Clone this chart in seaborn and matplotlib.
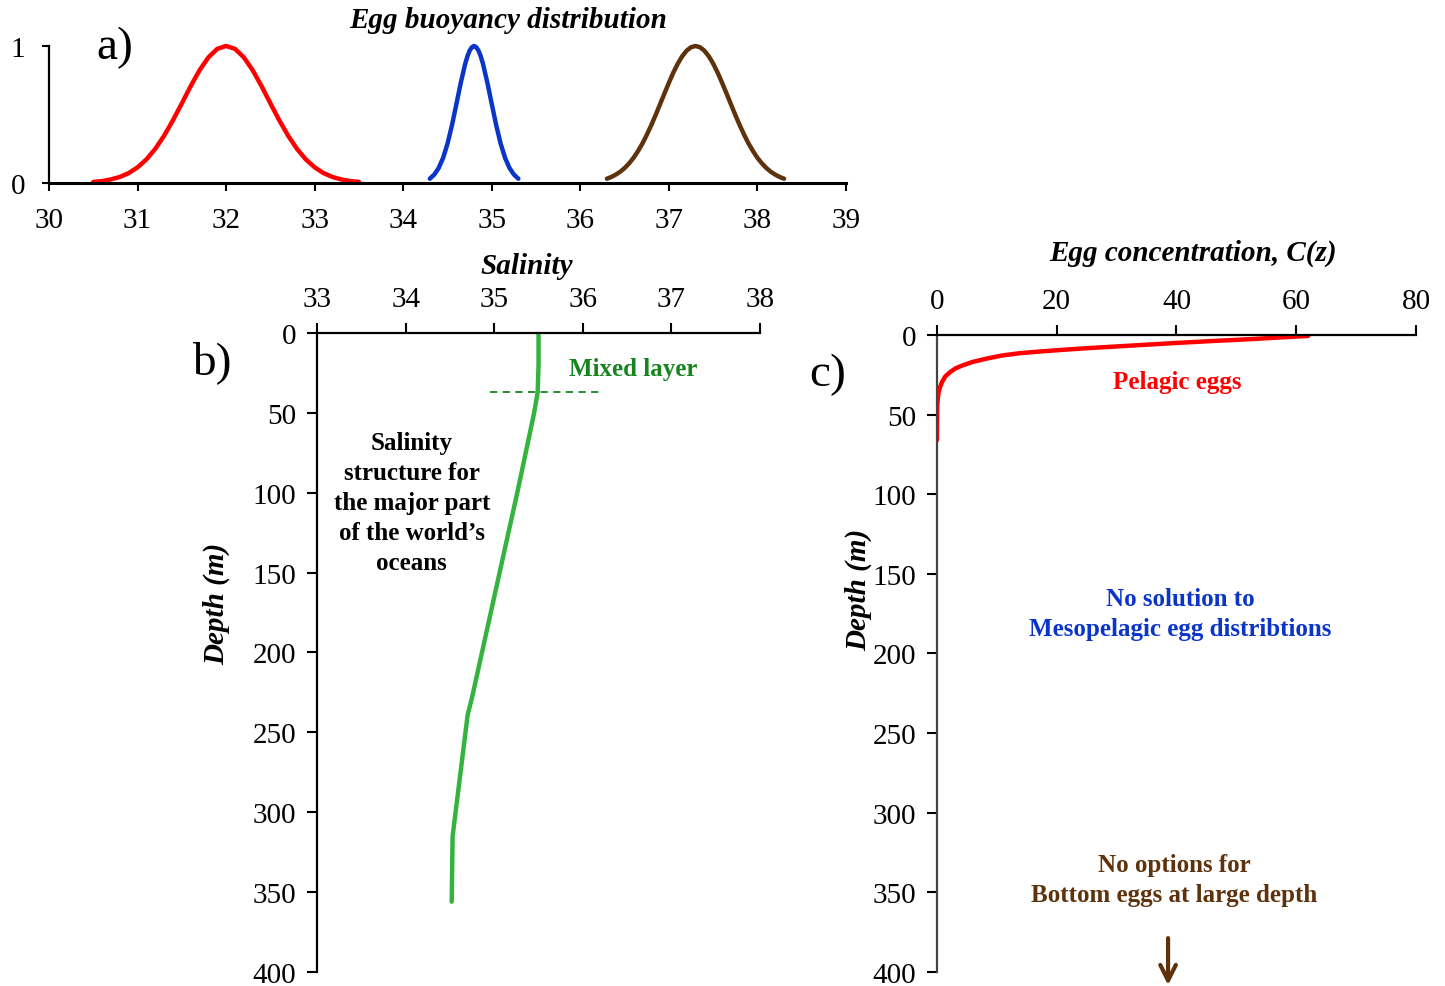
import numpy as np
import pandas as pd
import matplotlib
matplotlib.use("Agg")
import matplotlib.pyplot as plt
import seaborn as sns

# ---- panel a: egg buoyancy curves ----
red_sal = [30.5, 30.6, 30.7, 30.8, 30.9, 31.0, 31.1, 31.2, 31.3, 31.4, 31.5, 31.6, 31.7, 31.8, 31.9,
           32.0, 32.1, 32.2, 32.3, 32.4, 32.5, 32.6, 32.7, 32.8, 32.9, 33.0, 33.1, 33.2, 33.3, 33.4, 33.5]
red_val = [0.008, 0.014, 0.026, 0.044, 0.072, 0.114, 0.172, 0.249, 0.345, 0.458, 0.581, 0.707, 0.823, 0.917, 0.979,
           1.0, 0.979, 0.917, 0.823, 0.707, 0.581, 0.458, 0.345, 0.249, 0.172, 0.114, 0.072, 0.044, 0.026, 0.014, 0.008]
blue_sal = [34.3, 34.35, 34.4, 34.45, 34.5, 34.55, 34.6, 34.65, 34.7, 34.725, 34.75, 34.775, 34.8,
            34.825, 34.85, 34.875, 34.9, 34.95, 35.0, 35.05, 35.1, 35.15, 35.2, 35.25, 35.3]
blue_val = [0.031, 0.061, 0.109, 0.183, 0.287, 0.421, 0.575, 0.732, 0.871, 0.925, 0.966, 0.991, 1.0,
            0.991, 0.966, 0.925, 0.871, 0.732, 0.575, 0.421, 0.287, 0.183, 0.109, 0.061, 0.031]
brown_sal = [36.3, 36.35, 36.4, 36.45, 36.5, 36.55, 36.6, 36.65, 36.7, 36.75, 36.8, 36.85, 36.9, 36.95,
             37.0, 37.05, 37.1, 37.15, 37.2, 37.25, 37.3, 37.35, 37.4, 37.45, 37.5, 37.55, 37.6, 37.65,
             37.7, 37.75, 37.8, 37.85, 37.9, 37.95, 38.0, 38.05, 38.1, 38.15, 38.2, 38.25, 38.3]
brown_val = [0.031, 0.044, 0.061, 0.082, 0.109, 0.143, 0.183, 0.232, 0.287, 0.351, 0.421, 0.496, 0.575, 0.654,
             0.732, 0.806, 0.871, 0.925, 0.966, 0.991, 1.0, 0.991, 0.966, 0.925, 0.871, 0.806, 0.732, 0.654,
             0.575, 0.496, 0.421, 0.351, 0.287, 0.232, 0.183, 0.143, 0.109, 0.082, 0.061, 0.044, 0.031]

# ---- panel b: salinity profile ----
prof_depth = [0, 20, 37, 50, 100, 135, 228, 239, 315, 356]
prof_sal = [35.5, 35.5, 35.49, 35.45, 35.26, 35.12, 34.75, 34.70, 34.53, 34.52]

# ---- panel c: pelagic egg concentration ----
conc_depth = [0.6, 1.5, 2.5, 3.7, 5, 6, 7.1, 8.3, 9.6, 10.5, 11.5, 13, 15, 17, 19.2, 21, 23.3,
              26, 29.6, 33, 36, 40, 44, 55, 66]
conc_val = [62, 57.5, 53, 46.5, 40, 35.5, 30.5, 25, 20, 16.8, 13.7, 10.7, 8.1, 5.9, 4.2, 3.1, 2.2,
            1.4, 0.84, 0.5, 0.28, 0.14, 0.06, 0.02, 0.0]

depth_ticks = [0, 50, 100, 150, 200, 250, 300, 350, 400]

RED = "#ff0000"
BLUE = "#0a35c8"
BROWN = "#5e320c"
GREEN = "#34b33f"
DKGREEN = "#17851d"

sns.set_style("ticks")
plt.rcParams["font.family"] = ["Liberation Serif", "DejaVu Serif"]
plt.rcParams["font.size"] = 21
plt.rcParams["axes.linewidth"] = 1.6
plt.rcParams["text.color"] = "black"
plt.rcParams["axes.labelcolor"] = "black"
plt.rcParams["axes.edgecolor"] = "black"
plt.rcParams["xtick.color"] = "black"
plt.rcParams["ytick.color"] = "black"

fig = plt.figure(figsize=(14.45, 9.87), dpi=100)

# ================= a) =================
ax_a = fig.add_axes([0.0339, 0.8136, 0.5516, 0.1388])
for s, v, c in [(red_sal, red_val, RED), (blue_sal, blue_val, BLUE), (brown_sal, brown_val, BROWN)]:
    d = pd.DataFrame({"sal": s, "val": v})
    sns.lineplot(data=d, x="sal", y="val", color=c, lw=3.2, ax=ax_a, sort=False, estimator=None,
                 solid_capstyle="round")
ax_a.set_xlim(30, 39)
ax_a.set_ylim(0, 1)
ax_a.set_xticks(range(30, 40))
ax_a.set_yticks([0, 1])
ax_a.set_xlabel("")
ax_a.set_ylabel("")
sns.despine(ax=ax_a)
ax_a.spines["bottom"].set_linewidth(2.2)
ax_a.tick_params(axis="x", length=6, width=1.5, pad=11, labelsize=21)
ax_a.tick_params(axis="y", length=5, width=1.5, pad=12, labelsize=21)
for line in ax_a.lines:
    line.set_clip_on(False)
fig.text(508 / 1445, 1 - 21 / 987, "Egg buoyancy distribution", ha="center", va="center",
         fontsize=21, fontweight="bold", fontstyle="italic")
fig.text(115 / 1445, 1 - 48 / 987, "a)", ha="center", va="center", fontsize=34)

# ================= b) =================
ax_b = fig.add_axes([0.2194, 0.0142, 0.3066, 0.6474])
dfb = pd.DataFrame({"sal": prof_sal, "depth": prof_depth})
sns.lineplot(data=dfb, x="sal", y="depth", color=GREEN, lw=3.2, ax=ax_b, sort=False, estimator=None,
             solid_capstyle="round")
ax_b.set_xlim(33, 38)
ax_b.set_ylim(400, 0)
ax_b.set_xticks(range(33, 39))
ax_b.set_yticks(depth_ticks)
ax_b.xaxis.tick_top()
ax_b.xaxis.set_label_position("top")
for sp in ["right", "bottom"]:
    ax_b.spines[sp].set_visible(False)
ax_b.tick_params(axis="x", length=7, width=1.5, pad=8, labelsize=21)
ax_b.tick_params(axis="y", length=7, width=1.5, pad=8, labelsize=21)
ax_b.set_xlabel("Salinity", fontsize=21, fontweight="bold", fontstyle="italic")
ax_b.xaxis.set_label_coords(0.474, 1.094)
ax_b.set_ylabel("Depth (m)", fontsize=21, fontweight="bold", fontstyle="italic")
ax_b.yaxis.set_label_coords(-0.197, 0.578)
ax_b.plot([34.95, 36.19], [36.8, 36.8], ls=(0, (4, 3)), color=DKGREEN, lw=1.3)
ax_b.text(36.57, 22.5, "Mixed layer", color=DKGREEN, fontsize=18, fontweight="bold",
          ha="center", va="center")
ax_b.text(34.07, 106, "Salinity\nstructure for\nthe major part\nof the world\u2019s\noceans",
          fontsize=18, fontweight="bold", ha="center", va="center", linespacing=1.38)
fig.text(212 / 1445, 1 - 363 / 987, "b)", ha="center", va="center", fontsize=34)

# ================= c) =================
ax_c = fig.add_axes([0.6484, 0.0142, 0.3315, 0.6454])
dfc = pd.DataFrame({"conc": conc_val, "depth": conc_depth})
sns.lineplot(data=dfc, x="conc", y="depth", color=RED, lw=3.2, ax=ax_c, sort=False, estimator=None,
             solid_capstyle="round")
ax_c.set_xlim(0, 80)
ax_c.set_ylim(400, 0)
ax_c.set_xticks(range(0, 81, 20))
ax_c.set_yticks(depth_ticks)
ax_c.xaxis.tick_top()
ax_c.xaxis.set_label_position("top")
for sp in ["right", "bottom"]:
    ax_c.spines[sp].set_visible(False)
ax_c.spines["left"].set_color("#444444")
ax_c.tick_params(axis="x", length=7, width=1.5, pad=8, labelsize=21)
ax_c.tick_params(axis="y", length=7, width=1.5, pad=8, labelsize=21)
ax_c.set_xlabel("Egg concentration, C(z)", fontsize=21, fontweight="bold", fontstyle="italic")
ax_c.xaxis.set_label_coords(0.534, 1.118)
ax_c.set_ylabel("Depth (m)", fontsize=21, fontweight="bold", fontstyle="italic",
                bbox=dict(facecolor="white", edgecolor="none", pad=1))
ax_c.yaxis.set_label_coords(-0.136, 0.601)
ax_c.text(40.2, 29, "Pelagic eggs", color=RED, fontsize=18, fontweight="bold",
          ha="center", va="center")
ax_c.text(40.6, 175, "No solution to\nMesopelagic egg distribtions", color=BLUE, fontsize=18,
          fontweight="bold", ha="center", va="center", linespacing=1.38)
ax_c.text(39.6, 342, "No options for\nBottom eggs at large depth", color=BROWN, fontsize=18,
          fontweight="bold", ha="center", va="center", linespacing=1.38)
ax_c.annotate("", xy=(38.6, 410), xytext=(38.6, 377), annotation_clip=False,
              arrowprops=dict(arrowstyle="->", color=BROWN, lw=3, mutation_scale=28))
fig.text(828 / 1445, 1 - 375 / 987, "c)", ha="center", va="center", fontsize=34)

fig.savefig("out.png", dpi=100, facecolor="white")
